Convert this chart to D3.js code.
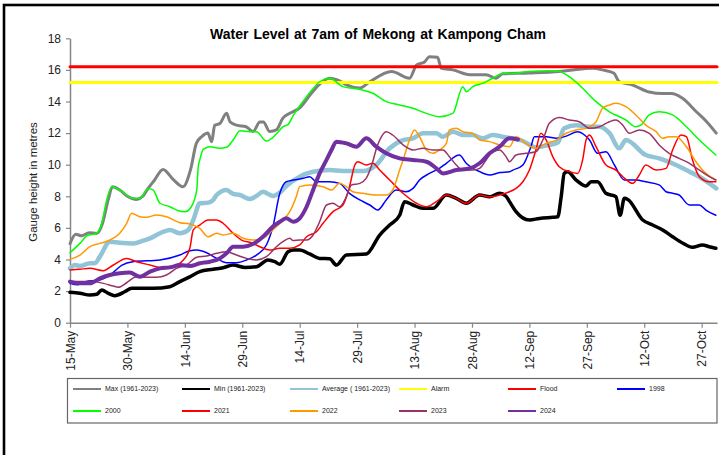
<!DOCTYPE html>
<html>
<head>
<meta charset="utf-8">
<script src="https://cdn.jsdelivr.net/npm/d3@7"></script>
<style>
  html, body { margin: 0; padding: 0; background: #fff; }
  svg { display: block; font-family: "Liberation Sans", Arial, sans-serif; }
</style>
</head>
<body>
<svg id="chart" width="719" height="455"></svg>
<script>
// Gauge readings in metres, as [days after 15 May, level]
const maxLevel = [[0,5.0],[1.5,5.6],[3,5.5],[5,5.7],[7,5.65],[8.5,6.3],[10,7.8],[11.1,8.6],[13,8.4],[15,8.0],[17.4,7.8],[19,8.0],[20.4,8.5],[22,9.0],[24.3,9.7],[27,9.05],[29.5,8.6],[31.5,9.7],[33,11.35],[34.5,11.8],[36,12.0],[37,11.45],[37.8,12.5],[39.1,12.6],[40.9,13.25],[41.8,12.72],[43.5,12.5],[46,12.4],[47.8,12.1],[49.6,12.7],[50.5,12.7],[52.2,12.1],[53.9,12.2],[55.6,12.95],[57.4,13.25],[60,13.6],[63,14.5],[65.2,15.1],[67.8,15.47],[70.4,15.3],[72.2,15.05],[75.7,14.85],[78.3,15.25],[84,15.9],[88.7,15.47],[90.5,16.3],[92.6,16.5],[93.9,16.84],[96,16.8],[97,16.1],[100,16.0],[104.4,15.7],[108.7,15.7],[111.3,15.47],[113,15.75],[120,15.8],[127.8,15.9],[131.3,16.0],[136.5,16.1],[139.1,16.0],[142,15.8],[143.5,15.25],[147,15.04],[151.3,14.6],[154.8,14.5],[157,14.5],[160,14.2],[163.6,13.35],[166,12.8],[168.8,12.0]];
const minLevel = [[0,1.92],[2.6,1.86],[5.2,1.75],[7,1.8],[8.3,2.07],[10,1.86],[11.7,1.71],[14.3,1.96],[16.1,2.18],[21.7,2.18],[26.1,2.28],[28.7,2.6],[31.3,2.9],[33.9,3.23],[37.4,3.38],[40,3.48],[42.6,3.65],[45.7,3.5],[48.7,3.54],[51.7,3.97],[53.5,3.86],[54.8,3.7],[57,4.5],[58.5,4.6],[60,4.6],[62.6,4.35],[65.2,4.07],[67.8,4.05],[69.6,3.65],[72.2,4.28],[77.4,4.35],[80.9,5.55],[83.5,6.18],[86.1,6.8],[87.4,7.66],[89.6,7.45],[92.2,7.24],[94.8,7.24],[98.3,8.08],[100.9,7.87],[103.5,7.56],[107,8.08],[109.6,7.97],[112.2,8.19],[113.9,8.0],[114.8,7.66],[116.5,7.03],[120,6.5],[122.6,6.6],[126.1,6.67],[127.4,6.7],[128.3,7.97],[129.1,9.45],[130,9.55],[132.2,9.03],[134.8,8.65],[136.1,8.92],[137.8,8.92],[140,8.19],[142.6,7.97],[143.7,6.8],[144.8,7.87],[145.7,7.8],[149.6,6.5],[152.2,6.18],[154.8,5.87],[157.4,5.44],[160.1,5.03],[162.6,4.77],[165.2,4.92],[167,4.81],[168.7,4.71]];
const avgLevel = [[0,3.44],[1.3,3.65],[2.6,3.59],[5.2,3.76],[6.5,3.76],[7.8,4.18],[10.4,5.13],[13,5.06],[16.5,5.02],[19.1,5.19],[20.9,5.34],[23.5,5.66],[26.1,5.87],[28.7,5.66],[30.9,5.87],[32.2,6.5],[33.9,7.56],[36.1,7.6],[37.4,7.77],[38.3,8.08],[40.9,8.4],[42.6,8.15],[44.4,8.08],[47,7.83],[48.7,8.02],[50.4,8.29],[53,8.02],[54.8,8.23],[56.5,8.65],[60,9.24],[63.5,9.55],[67.8,9.66],[71.3,9.6],[73.9,9.6],[76.5,9.6],[80,9.98],[83.5,11.04],[87,11.56],[89.6,11.67],[92.2,11.99],[95.7,11.99],[97.4,11.77],[100,12.09],[102.6,11.88],[105.2,11.88],[107.8,11.67],[110.4,11.88],[113,11.77],[118.3,11.5],[121.7,11.1],[125.2,11.25],[127.4,11.4],[129.1,12.3],[132.2,12.5],[135.7,12.4],[138.3,12.4],[140.9,12.0],[143.5,11.04],[145.2,11.56],[150.4,10.61],[153.9,10.4],[158.3,9.98],[161.8,9.56],[164.4,9.24],[168.8,8.5]];
const level1998 = [[0,2.5],[2,2.4],[4,2.6],[7.8,2.7],[11,3.13],[13.6,3.65],[16.4,3.86],[23.5,3.97],[28.7,4.28],[31.3,4.56],[33.1,4.6],[35.7,4.43],[38.3,4.07],[40.9,3.8],[43.5,3.8],[46.1,3.97],[48.7,4.28],[51.3,4.92],[53,6.08],[54.8,8.19],[56.5,8.92],[58.3,9.03],[60.9,9.14],[62.6,9.24],[64.4,8.92],[67.8,8.92],[70.4,8.82],[73,8.19],[75.7,7.77],[78.3,7.45],[80.4,7.13],[82.6,7.77],[85.2,8.4],[87.8,8.29],[89.6,8.5],[91.3,9.03],[93.9,9.45],[96.5,9.77],[98.3,10.09],[101.7,10.61],[103.5,10.09],[107,9.56],[109.6,9.35],[112.2,9.5],[114.8,9.56],[115.7,9.66],[118.3,9.98],[120.4,11.14],[121.3,11.77],[124.4,11.77],[127,11.67],[129.6,11.81],[132.6,12.09],[134.4,11.88],[135.7,11.56],[137.8,10.72],[140,10.82],[142.2,9.98],[144.8,9.03],[147.8,9.03],[150.4,8.92],[153.9,8.72],[155.7,8.29],[157.4,8.19],[159.1,8.08],[161.8,7.45],[164.4,7.45],[166.1,7.13],[168.7,6.8]];
const level2000 = [[0,4.43],[2.6,5.02],[4.4,5.49],[7,5.66],[8.3,6.29],[9.6,7.77],[10.9,8.61],[13,8.4],[16.5,7.87],[18.3,7.87],[20.4,8.5],[21.7,8.4],[23.5,7.56],[26.1,7.34],[28.3,7.09],[30,7.03],[31.7,7.34],[33.1,8.4],[33.5,9.87],[33.9,10.3],[34.8,10.97],[36.5,11.14],[39.1,11.04],[40.9,11.1],[42.6,11.56],[44.4,12.15],[47,12.09],[48.7,12.09],[51.3,11.5],[53.9,11.94],[55.6,12.4],[57,12.55],[58.3,13.1],[61.8,14.3],[65.2,15.25],[67.8,15.47],[71.3,14.94],[75.7,14.77],[79.1,14.52],[82.6,13.99],[86.1,13.78],[89.6,13.57],[93.1,13.25],[96.5,13.04],[100,13.25],[102.6,14.94],[103.5,14.62],[105.2,14.94],[107.8,15.15],[110.4,15.47],[113,15.78],[115.7,15.78],[119.1,15.89],[125.2,15.95],[127.8,15.9],[130.4,15.57],[133.9,14.84],[137.4,13.99],[140.9,13.35],[145.2,12.83],[147.8,12.4],[149.1,12.5],[151.3,13.15],[153.9,13.35],[157.4,13.15],[161,12.4],[164.4,11.56],[168.7,10.61]];
const level2021 = [[0,3.34],[2.6,3.38],[5.2,3.44],[8.7,3.29],[11.3,3.65],[14.8,4.07],[17.4,3.86],[20.9,3.65],[23.5,3.5],[27,3.59],[29.6,3.97],[31.3,4.71],[32.2,5.87],[33.9,6.18],[36.1,6.5],[38.3,6.5],[40,6.29],[42.6,5.66],[44.8,5.23],[47.4,5.06],[49.6,4.81],[52.2,4.6],[54.8,4.71],[57.4,4.71],[60,4.92],[61.8,5.44],[64.4,5.76],[66.1,6.29],[68.7,7.03],[71.3,7.45],[73,8.61],[74.4,9.98],[75.2,10.19],[77.4,9.98],[79.1,10.09],[80.9,9.66],[83.5,9.03],[87,8.19],[90.5,7.56],[93.1,7.34],[95.7,7.66],[98.3,8.08],[100.9,7.87],[103.5,7.56],[107,8.08],[109.6,7.97],[112.2,8.08],[114.8,8.29],[116.5,8.5],[118.3,8.92],[120,9.66],[121.7,10.93],[123,11.99],[124.4,11.56],[126.1,10.51],[127.8,9.87],[130.4,9.56],[132.6,9.45],[133.9,10.3],[134.8,11.56],[135.7,11.88],[137.4,11.14],[140,9.98],[142.6,9.66],[144.4,9.24],[147,8.82],[148.7,9.35],[150.4,9.98],[153.1,9.66],[155.7,9.77],[157.4,10.93],[159.6,11.88],[161,11.77],[162.6,10.3],[164.4,9.24],[167,8.92],[168.7,8.92]];
const level2022 = [[0,4.01],[2.6,4.28],[5.2,4.81],[7.8,5.02],[10.4,5.23],[13,5.66],[14.8,6.29],[16.1,6.92],[18.3,6.71],[20,6.67],[22.6,6.82],[25.2,6.71],[28.7,6.33],[31.3,6.25],[33.9,5.97],[36.1,5.44],[38.3,5.66],[40,5.55],[42.6,5.66],[45.2,5.34],[47.8,5.23],[50.4,5.34],[53,5.87],[55.6,6.5],[57.4,7.03],[59.1,7.97],[60,8.61],[62.6,8.72],[66.1,8.61],[68.3,8.4],[70.4,8.82],[72.2,8.61],[73.9,8.29],[76.5,8.19],[80,8.08],[82.6,8.08],[84.3,8.4],[86.1,9.66],[87,10.3],[88.7,11.56],[90,12.2],[91.3,11.77],[93.1,10.93],[94.8,10.72],[96.5,10.93],[98.3,11.35],[99.1,12.2],[100.9,12.3],[102.6,12.09],[105.2,11.99],[107,11.56],[109.6,11.46],[112.2,11.25],[114.8,11.14],[116.5,11.77],[119.1,11.35],[121.7,11.04],[124.4,11.35],[127,11.56],[129.6,11.99],[132.2,12.2],[134.8,12.3],[137.4,12.72],[139.1,13.57],[140.9,13.78],[142.6,13.89],[145.2,13.67],[147.8,13.15],[150.4,12.5],[153.1,12.09],[154.8,11.67],[156.5,11.77],[158.3,11.77],[161,11.14],[163.5,10.19],[166.1,9.45],[168.7,9.03]];
const level2023 = [[0,2.6],[2.6,2.6],[6.1,2.6],[8.7,2.49],[11.3,2.32],[12.6,2.24],[14.8,2.53],[17.4,2.91],[20,2.87],[22.6,2.87],[25.2,3.02],[27.8,3.44],[30.4,3.65],[33.1,4.14],[35.7,4.22],[38.3,4.39],[40.9,4.49],[43.5,4.28],[46.1,4.07],[48.7,3.97],[51.3,4.18],[53.9,4.81],[55.6,5.13],[57.4,5.34],[58.3,5.2],[60,5.23],[61.8,5.23],[63.5,5.55],[65.2,6.39],[67,7.45],[68.7,7.56],[70.4,7.34],[72.2,7.97],[73.5,8.72],[75.7,8.82],[77.4,9.15],[79.1,10.2],[80,11.0],[80.9,11.56],[82.6,12.09],[84.3,11.88],[87,11.25],[89.6,10.93],[92.2,11.04],[94.8,10.93],[97.4,10.93],[99.1,10.51],[100.9,9.98],[102.6,9.66],[105.2,9.66],[107,9.77],[108.7,10.3],[110.4,10.82],[112.2,10.93],[113.9,10.51],[114.8,10.19],[116.5,10.61],[119.1,10.72],[121.7,10.82],[123.5,11.56],[125.2,12.62],[127.8,12.99],[130.4,12.83],[133,12.72],[135.7,12.3],[138.3,12.4],[140.9,12.72],[142.6,12.83],[144.4,12.5],[146.1,11.99],[148.7,12.2],[151.3,11.99],[153.9,11.25],[156.5,10.72],[159.1,10.4],[161.8,10.09],[164.4,9.66],[167,9.24],[168.7,9.03]];
const level2024 = [[0,2.6],[2.6,2.49],[5.2,2.49],[7.8,2.81],[10.4,3.02],[13,3.13],[15.6,3.17],[18.3,2.91],[20.9,3.23],[23.5,3.44],[26.1,3.5],[28.7,3.65],[31.3,3.59],[33.9,3.76],[36.5,3.86],[39.1,4.07],[40.9,4.39],[42.6,4.81],[45.2,4.81],[47.8,4.98],[50.4,5.44],[53,6.08],[54.8,6.39],[56.5,6.61],[58.3,6.39],[60,6.61],[61.8,7.34],[63.5,8.4],[65.2,9.45],[67,10.3],[68.3,10.93],[69.6,11.46],[72.2,11.35],[74.8,11.14],[77.4,11.67],[80,11.14],[82.6,10.72],[86.1,10.4],[89.6,10.3],[93.1,10.19],[95.7,9.77],[97.4,9.45],[100.9,9.66],[104.4,9.77],[107,10.09],[109.6,10.72],[112.2,11.14],[114.8,11.67],[117,11.6]];

// Warning thresholds (m)
const alarmLevel = 15.2;
const floodLevel = 16.2;

const yTicks = [0, 2, 4, 6, 8, 10, 12, 14, 16, 18];
const xTickLabels = ["15-May","30-May","14-Jun","29-Jun","14-Jul","29-Jul","13-Aug","28-Aug","12-Sep","27-Sep","12-Oct","27-Oct"];
const seriesNames = ["Max (1961-2023)","Min (1961-2023)","Average ( 1961-2023)","Alarm","Flood","1998","2000","2021","2022","2023","2024"];
const seriesColors = ["#808080","#000000","#92C4D8","#FFFF00","#FF0000","#0000FF","#00FF00","#FF0000","#FF9900","#993366","#7030A0"];
const seriesWidths = [3, 3.5, 4.5, 3, 3, 1.5, 1.5, 1.5, 1.5, 1.5, 4];

const season = new Date(2024, 4, 15);
const toDate = d => new Date(season.getTime() + d * 864e5);
const parseTick = s => { const t = d3.timeParse("%d-%b")(s); t.setFullYear(2024); return t; };

const svg = d3.select("#chart");
const x = d3.scaleTime().domain([season, new Date(2024, 9, 31)]).range([70, 717]);
const y = d3.scaleLinear().domain([0, 18]).range([322.7, 38.3]);

// outer frame
svg.append("rect").attr("x", 4).attr("y", 5).attr("width", 740).attr("height", 480)
  .attr("fill", "none").attr("stroke", "#000").attr("stroke-width", 2.6);

// title
svg.append("text").attr("x", 378).attr("y", 39).attr("text-anchor", "middle")
  .attr("font-size", 14).attr("font-weight", "bold").attr("word-spacing", 1)
  .text("Water Level at 7am of Mekong at Kampong Cham");

// y axis
const yAxis = svg.append("g").attr("transform", "translate(70,0)")
  .call(d3.axisLeft(y).tickValues(yTicks).tickSize(4).tickSizeOuter(0).tickPadding(5));
yAxis.select(".domain").attr("stroke", "#868686").attr("stroke-width", 1.5);
yAxis.selectAll(".tick line").attr("stroke", "#868686").attr("stroke-width", 1.2);
yAxis.selectAll("text").attr("font-size", 12).attr("fill", "#222").attr("font-family", "Liberation Sans, Arial, sans-serif");

svg.append("text").attr("transform", "translate(33,182) rotate(-90)")
  .attr("text-anchor", "middle").attr("dy", "0.35em").attr("font-size", 11.5).attr("fill", "#222")
  .text("Gauge height in metres");

// x axis
const xAxis = svg.append("g").attr("transform", "translate(0,322.7)")
  .call(d3.axisBottom(x).tickValues(xTickLabels.map(parseTick)).tickFormat(d3.timeFormat("%d-%b")).tickSize(5).tickSizeOuter(0));
xAxis.select(".domain").attr("stroke", "#868686").attr("stroke-width", 1.5);
xAxis.selectAll(".tick line").attr("stroke", "#868686").attr("stroke-width", 1.2);
xAxis.selectAll(".tick text")
  .text((d, i) => xTickLabels[i])
  .attr("font-size", 12).attr("fill", "#222").attr("font-family", "Liberation Sans, Arial, sans-serif")
  .attr("text-anchor", "end").attr("transform", "rotate(-90)")
  .attr("x", -8).attr("y", 0).attr("dy", "0.35em");

// series
const line = d3.line().x(d => x(toDate(d[0]))).y(d => y(d[1])).curve(d3.curveMonotoneX);
const plotted = [
  [0, maxLevel], [1, minLevel], [2, avgLevel],
  [3, [[0, alarmLevel], [169, alarmLevel]]], [4, [[0, floodLevel], [169, floodLevel]]],
  [5, level1998], [6, level2000], [7, level2021], [8, level2022], [9, level2023], [10, level2024]
];
const g = svg.append("g");
plotted.forEach(([i, data]) => {
  g.append("path").datum(data).attr("d", line)
    .attr("fill", "none").attr("stroke", seriesColors[i]).attr("stroke-width", seriesWidths[i])
    .attr("stroke-linejoin", "round").attr("stroke-linecap", "round");
});

// legend
svg.append("rect").attr("x", 67.5).attr("y", 378.5).attr("width", 649.5).attr("height", 44.5)
  .attr("fill", "#fff").attr("stroke", "#666").attr("stroke-width", 1.2);
const colX = [73, 182, 290, 399, 508, 617];
const rowY = [389, 411];
seriesNames.forEach((name, i) => {
  const cx = colX[i % 6], cy = rowY[Math.floor(i / 6)];
  svg.append("line").attr("x1", cx).attr("x2", cx + 28).attr("y1", cy).attr("y2", cy)
    .attr("stroke", seriesColors[i]).attr("stroke-width", 2);
  svg.append("text").attr("x", cx + 32).attr("y", cy).attr("dy", "0.35em")
    .attr("font-size", 7).attr("fill", "#222").text(name);
});
</script>
</body>
</html>
